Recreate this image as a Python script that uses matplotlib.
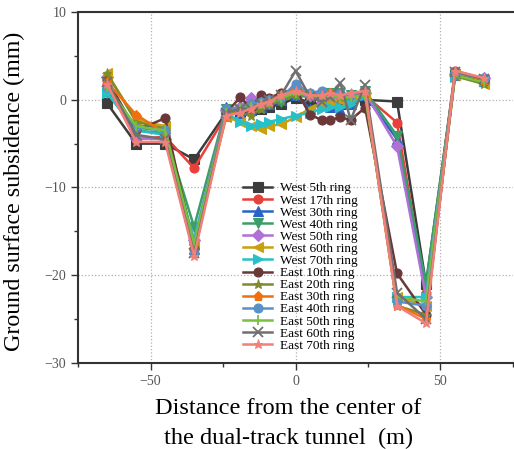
import numpy as np
import matplotlib
matplotlib.use("Agg")
import matplotlib.pyplot as plt
from matplotlib.ticker import MultipleLocator, AutoMinorLocator

plt.rcParams['font.family'] = ['Liberation Serif', 'DejaVu Serif']
plt.rcParams['mathtext.fontset'] = 'stix'

# distance from tunnel centre (m)
dist = [-65, -55, -45, -35, -24, -19, -15.5, -12, -9, -5, 0,
        5, 9, 12, 15.5, 19, 24, 35, 45, 55, 65]

labels = ['West 5th ring', 'West 17th ring', 'West 30th ring', 'West 40th ring',
          'West 50th ring', 'West 60th ring', 'West 70th ring', 'East 10th ring',
          'East 20th ring', 'East 30th ring', 'East 40th ring', 'East 50th ring',
          'East 60th ring', 'East 70th ring']

w5 = [-0.4, -5.0, -5.0, -6.8, -1.5, -1.5, -1.2, -1.0, -0.8, -0.5, 0.2,
      -0.3, -0.5, -0.3, -0.5, -0.3, 0.0, -0.2, -21.0, 2.8, 2.2]
w17 = [1.8, -4.5, -4.2, -7.8, -1.8, -1.0, -0.8, -0.5, -0.3, 0.2, 1.0,
       0.5, 0.2, 0.3, 0.2, 0.5, 0.5, -2.6, -22.0, 3.3, 2.4]
w30 = [1.0, -3.0, -3.2, -17.0, -0.8, -1.5, -1.0, -0.8, -0.5, 0.0, 0.5,
       -1.0, -0.5, -0.8, -1.2, -0.5, 0.5, -4.5, -22.0, 2.8, 2.2]
w40 = [0.8, -3.5, -3.8, -14.5, -1.0, -1.2, -1.0, -0.6, -0.5, -0.2, 0.5,
       0.3, 0.5, 0.8, 0.8, 0.5, 1.0, -4.1, -21.0, 2.9, 2.3]
w50 = [2.6, -4.4, -4.5, -16.0, -1.2, -0.8, 0.2, -0.5, -0.2, 0.3, 1.5,
       0.5, -0.3, 0.5, 0.2, 0.5, 0.8, -5.3, -22.5, 2.9, 2.5]
w60 = [3.0, -2.3, -3.0, -16.5, -2.0, -2.5, -3.0, -3.3, -3.0, -2.8, -2.0,
       -1.0, -0.5, -0.3, 0.0, 0.3, 0.5, -22.5, -23.5, 2.8, 1.8]
w70 = [0.8, -3.5, -4.0, -16.0, -1.5, -2.5, -3.0, -2.8, -2.5, -2.2, -1.8,
       -1.5, -1.0, -0.8, -0.8, -0.5, 0.5, -22.5, -22.5, 2.6, 2.2]
e10 = [2.3, -3.5, -2.1, -17.0, -1.5, 0.3, -1.0, 0.5, 0.2, 0.8, 1.2,
       -1.7, -2.3, -2.3, -2.0, -2.3, -0.9, -19.8, -24.5, 3.0, 2.2]
e20 = [3.0, -2.5, -3.3, -16.5, -1.5, -1.5, -1.8, -1.0, -0.5, 0.0, 0.5,
       0.8, 0.5, 0.5, 0.3, 0.5, 0.8, -23.5, -24.5, 2.7, 1.8]
e30 = [2.0, -1.7, -3.8, -17.0, -2.0, -1.2, -0.5, -0.3, 0.0, 0.5, 1.3,
       0.5, 0.3, 0.8, 0.5, 0.5, 0.8, -23.4, -25.0, 3.1, 2.3]
e40 = [1.5, -3.2, -3.5, -17.5, -1.0, -1.0, -0.5, -0.3, 0.0, 0.3, 1.8,
       0.8, 1.0, 0.5, 0.8, 0.5, 1.0, -23.0, -23.5, 3.0, 2.5]
e50 = [1.5, -3.0, -3.5, -16.5, -1.5, -1.0, -0.8, -0.5, -0.3, 0.2, 0.8,
       0.5, 0.3, 0.5, 0.3, 0.3, 0.5, -22.5, -23.0, 2.8, 2.0]
e60 = [2.0, -4.0, -4.5, -17.5, -1.5, -1.0, -1.0, -0.5, 0.0, 0.5, 3.3,
       0.3, -0.2, 0.3, 1.9, -2.3, 1.7, -22.0, -25.0, 3.2, 2.4]
e70 = [1.8, -4.8, -4.8, -17.8, -1.8, -1.5, -1.0, -0.5, -0.2, 0.5, 1.0,
       0.5, 0.5, 0.8, 0.5, 0.8, 1.0, -23.5, -25.5, 3.3, 2.5]

series = [w5, w17, w30, w40, w50, w60, w70, e10, e20, e30, e40, e50, e60, e70]

colors = ['#3c3c3c', '#e8403a', '#2a62c8', '#3a9e6a', '#b070d8', '#c8a010',
          '#28c0c8', '#6a3838', '#7f8a2a', '#f07010', '#5a90c8', '#78c040',
          '#707070', '#f08078']
markers = ['s', 'o', '^', 'v', 'D', '<', '>', 'o', '*', 'p', 'o', '|', 'x', '*']

fig = plt.figure(figsize=(5.14, 4.49), dpi=100)
ax = fig.add_axes([0.152, 0.192, 0.846, 0.781])

for vals, lab, c, m in zip(series, labels, colors, markers):
    ax.plot(dist, vals, color=c, marker=m, markersize=6.5, linewidth=1.8,
            label=lab, markeredgewidth=1.3 if m in ('x', '|') else 0.8)

ax.set_xlim(-75, 75)
ax.set_ylim(-30, 10)
ax.xaxis.set_major_locator(MultipleLocator(50))
ax.yaxis.set_major_locator(MultipleLocator(10))
ax.xaxis.set_minor_locator(AutoMinorLocator(2))
ax.yaxis.set_minor_locator(AutoMinorLocator(2))
ax.grid(True, which='major', linestyle=':', color='#b0b0b0', linewidth=0.9)
ax.tick_params(which='major', direction='out', length=5, width=1, labelsize=10,
               labelcolor='#555555', color='#333333')
ax.tick_params(which='minor', direction='out', length=3, width=1, color='#333333')
ax.spines['right'].set_visible(False)
for s in ('left', 'bottom', 'top'):
    ax.spines[s].set_linewidth(1.5)
    ax.spines[s].set_color('#333333')

ax.set_ylabel('Ground surface subsidence (mm)', fontsize=17.3)
ax.yaxis.set_label_coords(-0.122, 0.49)
ax.set_xlabel('Distance from the center of\nthe dual-track tunnel  (m)',
              fontsize=17.5, linespacing=1.55, va='top')
ax.xaxis.set_label_coords(0.483, -0.1)

ax.legend(loc='upper left', bbox_to_anchor=(0.368, 0.53), frameon=False,
          fontsize=9.5, labelspacing=-0.01, handlelength=2.2, handletextpad=0.6,
          borderaxespad=0)

fig.savefig('out.png', dpi=100)
